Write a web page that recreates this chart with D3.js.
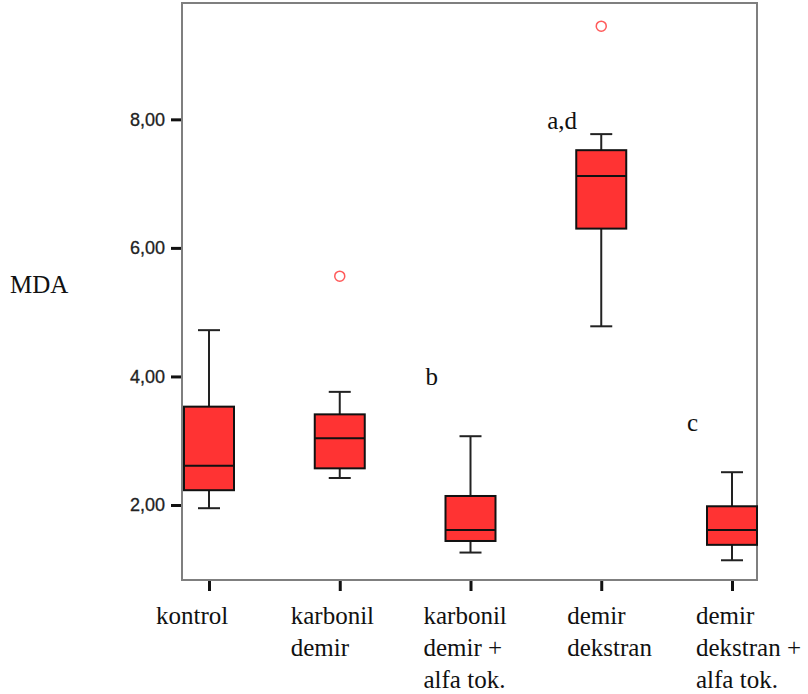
<!DOCTYPE html>
<html>
<head>
<meta charset="utf-8">
<script src="https://cdn.jsdelivr.net/npm/d3@7"></script>
<style>
    html, body { margin: 0; padding: 0; background: #fff; }
    svg { display: block; }
</style>
</head>
<body>
<svg id="chart" width="808" height="694"></svg>
<script>
// --- DATA ---
const categories = [
    ['kontrol'],
    ['karbonil', 'demir'],
    ['karbonil', 'demir +', 'alfa tok.'],
    ['demir', 'dekstran'],
    ['demir', 'dekstran +', 'alfa tok.']
];
const whiskerLow  = [1.95, 2.42, 1.26, 4.78, 1.14];
const boxLow      = [2.23, 2.57, 1.44, 6.30, 1.38];
const medians     = [2.61, 3.04, 1.61, 7.12, 1.61];
const boxHigh     = [3.53, 3.41, 2.14, 7.52, 1.98];
const whiskerHigh = [4.72, 3.76, 3.07, 7.77, 2.51];
const outliers    = [[], [5.56], [], [9.45], []];
const yTicks      = [2, 4, 6, 8];
const annotations = [
    { index: 2, text: 'b', value: 3.87 },
    { index: 3, text: 'a,d', value: 7.85 },
    { index: 4, text: 'c', value: 3.15 }
];
const yTitle = 'MDA';

// --- LAYOUT ---
const frame = { left: 182, right: 757, top: 3, bottom: 580 };
const labelShift = [-53, -49, -47, -34, -36];
const boxWidth = 50;
const capWidth = 22;
const serifFont = '"Liberation Serif", "Times New Roman", serif';
const sansFont = '"Liberation Sans", Arial, sans-serif';

const svg = d3.select('#chart');
const keys = categories.map(c => c.join(' '));

const x = d3.scalePoint()
    .domain(keys)
    .range([209, 732]);

const y = d3.scaleLinear()
    .domain([0.833, 9.81])
    .range([frame.bottom, frame.top]);

const serifText = (sel) => sel
    .attr('font-family', serifFont)
    .attr('font-size', 25)
    .attr('fill', '#111');

// frame
svg.append('rect')
    .attr('x', frame.left)
    .attr('y', frame.top)
    .attr('width', frame.right - frame.left)
    .attr('height', frame.bottom - frame.top)
    .attr('fill', 'none')
    .attr('stroke', '#7f7f7f')
    .attr('stroke-width', 2);

// y axis
const yAxis = svg.append('g')
    .attr('transform', `translate(${frame.left - 1},0)`)
    .call(d3.axisLeft(y).tickValues(yTicks).tickSize(10).tickPadding(6)
        .tickFormat(d => d3.format('.2f')(d).replace('.', ',')));
yAxis.select('.domain').remove();
yAxis.selectAll('.tick line').attr('stroke', '#111').attr('stroke-width', 3);
yAxis.selectAll('.tick text')
    .attr('font-family', sansFont)
    .attr('font-size', 18)
    .attr('fill', '#222')
    .attr('stroke', '#222')
    .attr('stroke-width', 0.3);

svg.append('text')
    .call(serifText)
    .attr('x', 10)
    .attr('y', 293)
    .text(yTitle);

// x axis
const xAxis = svg.append('g')
    .attr('transform', `translate(0,${frame.bottom + 1})`)
    .call(d3.axisBottom(x).tickSize(10).tickFormat(''));
xAxis.select('.domain').remove();
xAxis.selectAll('.tick line').attr('stroke', '#111').attr('stroke-width', 3);

categories.forEach((lines, i) => {
    const t = svg.append('text').call(serifText);
    lines.forEach((line, j) => {
        t.append('tspan')
            .attr('x', x(keys[i]) + labelShift[i])
            .attr('y', 624 + j * 32)
            .text(line);
    });
});

// boxes
const groups = svg.selectAll('.box')
    .data(keys)
    .enter().append('g')
    .attr('class', 'box');

groups.append('line')
    .attr('x1', d => x(d)).attr('x2', d => x(d))
    .attr('y1', (d, i) => y(whiskerLow[i]))
    .attr('y2', (d, i) => y(whiskerHigh[i]))
    .attr('stroke', '#222').attr('stroke-width', 2);

[whiskerLow, whiskerHigh].forEach(arr => {
    groups.append('line')
        .attr('x1', d => x(d) - capWidth / 2).attr('x2', d => x(d) + capWidth / 2)
        .attr('y1', (d, i) => y(arr[i])).attr('y2', (d, i) => y(arr[i]))
        .attr('stroke', '#222').attr('stroke-width', 2);
});

groups.append('rect')
    .attr('x', d => x(d) - boxWidth / 2)
    .attr('y', (d, i) => y(boxHigh[i]))
    .attr('width', boxWidth)
    .attr('height', (d, i) => y(boxLow[i]) - y(boxHigh[i]))
    .attr('fill', '#ff3333')
    .attr('stroke', '#111')
    .attr('stroke-width', 2);

groups.append('line')
    .attr('x1', d => x(d) - boxWidth / 2).attr('x2', d => x(d) + boxWidth / 2)
    .attr('y1', (d, i) => y(medians[i])).attr('y2', (d, i) => y(medians[i]))
    .attr('stroke', '#111').attr('stroke-width', 2);

// outliers
keys.forEach((k, i) => {
    outliers[i].forEach(v => {
        svg.append('circle')
            .attr('cx', x(k))
            .attr('cy', y(v))
            .attr('r', 5)
            .attr('fill', 'none')
            .attr('stroke', '#ff5a5a')
            .attr('stroke-width', 1.5);
    });
});

// significance letters
annotations.forEach(a => {
    svg.append('text')
        .call(serifText)
        .attr('x', x(keys[a.index]) - (a.text.length > 1 ? 54 : 45))
        .attr('y', y(a.value))
        .text(a.text);
});
</script>
</body>
</html>
